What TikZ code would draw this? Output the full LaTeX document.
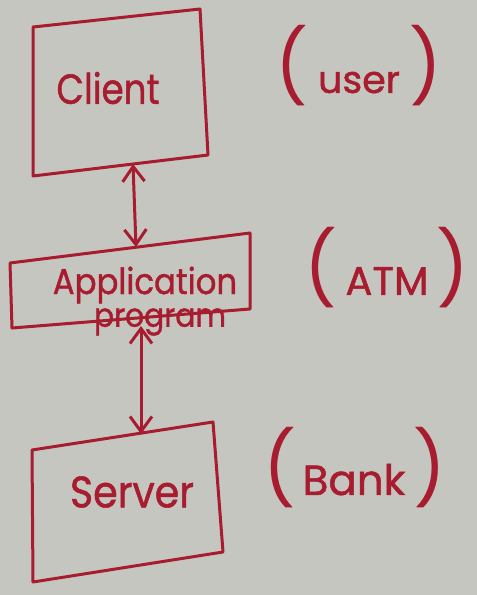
\documentclass[tikz,border=0pt]{standalone}
\usepackage{fontspec}
\setmainfont{Poppins}
\newfontfamily\handfont{Poppins}[FakeBold=1.2]
\usetikzlibrary{arrows.meta}
\definecolor{paper}{RGB}{198,198,192}
\definecolor{ink}{RGB}{168,28,48}
\tikzset{
  pen/.style={draw=ink, line width=3pt, line cap=round, line join=round},
  barb/.tip={Straight Barb[length=15pt,width=22pt,line width=3pt]},
  link/.style={pen, barb-barb},
  word/.style={text=ink, inner sep=0pt, transform shape},
}
% parentheses in the plain (thinner) weight, drawn taller than the words
\newcommand\tallparen[1]{{\normalfont\fontsize{72}{72}\selectfont #1}}
\begin{document}
\begin{tikzpicture}[x=1pt,y=-1pt]
  % paper
  \fill[paper] (0,0) rectangle (477,595);
  \useasboundingbox (0,0) rectangle (477,595);

  % client box
  \coordinate (c1) at (33,27);
  \coordinate (c2) at (200,9);
  \coordinate (c3) at (208,155);
  \coordinate (c4) at (33,176);
  \draw[pen] (c1) -- (c2) -- (c3) -- (c4) -- cycle;
  \node[word, xscale=0.85, font=\handfont\fontsize{42}{42}\selectfont] (client) at (108,88) {Client};
  \node[word, font=\handfont\fontsize{38}{38}\selectfont] (user) at (359,66) {\tallparen{(}\hspace{10pt}user\hspace{10pt}\tallparen{)}};

  % application program box
  \coordinate (a1) at (10,263);
  \coordinate (a2) at (250,233);
  \coordinate (a3) at (250,309);
  \coordinate (a4) at (12,328);
  \draw[pen] (a1) -- (a2) -- (a3) -- (a4) -- cycle;
  \node[word, xscale=0.9, font=\handfont\fontsize{36}{36}\selectfont] (app) at (145,285) {Application};
  \node[word, xscale=0.9, font=\handfont\fontsize{33}{33}\selectfont] (prog) at (160,322) {program};
  \node[word, font=\handfont\fontsize{40}{40}\selectfont] (atm) at (387,268) {\tallparen{(}\hspace{8pt}ATM\hspace{8pt}\tallparen{)}};

  % server box
  \coordinate (s1) at (32,450);
  \coordinate (s2) at (213,422);
  \coordinate (s3) at (223,552);
  \coordinate (s4) at (33,582);
  \draw[pen] (s1) -- (s2) -- (s3) -- (s4) -- cycle;
  \node[word, xscale=0.9, font=\handfont\fontsize{44}{44}\selectfont] (server) at (132,492) {Server};
  \node[word, font=\handfont\fontsize{42}{42}\selectfont] (bank) at (355,468) {\tallparen{(}\hspace{6pt}Bank\hspace{8pt}\tallparen{)}};

  % two-way links between the tiers
  \coordinate (clientS) at (133,164);
  \coordinate (appN) at (136,247);
  \coordinate (appS) at (141,326);
  \coordinate (serverN) at (141,434);
  \draw[link] (clientS) -- (appN);
  \draw[link] (appS) -- (serverN);
\end{tikzpicture}
\end{document}
